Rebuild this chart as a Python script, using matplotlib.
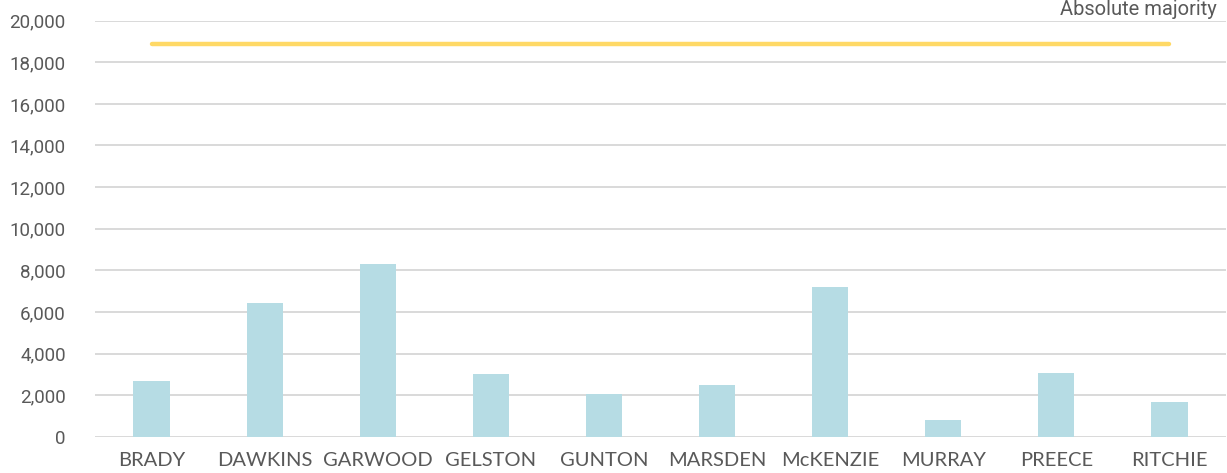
import matplotlib.pyplot as plt
from matplotlib.ticker import FuncFormatter

# Data
candidates = ['BRADY', 'DAWKINS', 'GARWOOD', 'GELSTON', 'GUNTON',
              'MARSDEN', 'McKENZIE', 'MURRAY', 'PREECE', 'RITCHIE']
votes = [2670, 6450, 8300, 3000, 2030, 2480, 7220, 800, 3060, 1650]
majority = 18900

bar_color = '#B6DCE4'
line_color = '#FFD966'
text_color = '#595959'
grid_color = '#D9D9D9'

fig = plt.figure(figsize=(12.27, 4.73), dpi=100)
ax = fig.add_axes([95 / 1227, 1 - 436.7 / 473, (1226 - 95) / 1227, (436.7 - 20.7) / 473])

x = list(range(len(candidates)))
ax.bar(x, votes, width=0.32, color=bar_color, zorder=2)

# absolute majority line from first to last candidate
ax.plot([x[0], x[-1]], [majority, majority], color=line_color, lw=3.2,
        solid_capstyle='round', zorder=3)

ax.set_xlim(-0.5, len(candidates) - 0.5)
ax.set_ylim(0, 20000)
ax.set_yticks(range(0, 20001, 2000))
ax.yaxis.set_major_formatter(FuncFormatter(lambda v, p: f'{int(v):,}'))
ax.set_xticks(x)
ax.set_xticklabels(candidates)

ax.grid(axis='y', color=grid_color, lw=1.4, zorder=0)
ax.set_axisbelow(True)
for s in ax.spines.values():
    s.set_visible(False)

ax.tick_params(axis='y', length=0, pad=21, labelsize=13.5, labelcolor=text_color)
ax.tick_params(axis='x', length=0, pad=11, labelsize=14.5, labelcolor=text_color)
for lab in ax.get_yticklabels():
    lab.set_family(['Roboto', 'DejaVu Sans'])
for lab in ax.get_xticklabels():
    lab.set_family(['Lato', 'DejaVu Sans'])

fig.text(1217 / 1227, 1 - 15 / 473, 'Absolute majority', ha='right', va='baseline',
         fontsize=14.5, color=text_color, family=['Roboto', 'DejaVu Sans'])

fig.savefig('out.png', dpi=100)
